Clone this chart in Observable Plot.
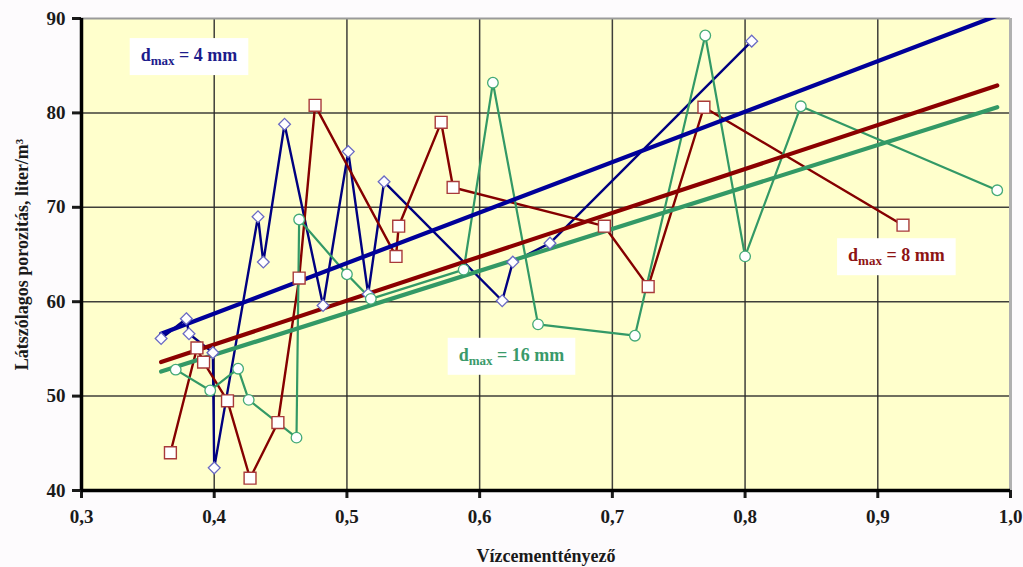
<!DOCTYPE html>
<html><head><meta charset="utf-8">
<script src="https://cdn.jsdelivr.net/npm/d3@7"></script>
<script src="https://cdn.jsdelivr.net/npm/@observablehq/plot@0.6"></script>
<style>
html,body{margin:0;padding:0;background:#fdfbfd;overflow:hidden;}
</style></head><body><div id="chart"></div>
<script>
// --- data ---
const xTicks = [0.3, 0.4, 0.5, 0.6, 0.7, 0.8, 0.9, 1.0];
const yTicks = [40, 50, 60, 70, 80, 90];

// d_max = 4 mm (diamonds)
const blueX = [0.360, 0.379, 0.381, 0.399, 0.400, 0.433, 0.437, 0.453, 0.482, 0.501, 0.516, 0.528, 0.617, 0.625, 0.653, 0.805];
const blueY = [56.1, 58.2, 56.6, 54.6, 42.4, 69.0, 64.2, 78.8, 59.6, 75.9, 60.8, 72.7, 60.1, 64.2, 66.2, 87.6];
// d_max = 8 mm (squares)
const redX = [0.367, 0.387, 0.392, 0.410, 0.427, 0.448, 0.464, 0.476, 0.537, 0.539, 0.571, 0.580, 0.694, 0.727, 0.769, 0.919];
const redY = [44.0, 55.1, 53.6, 49.5, 41.3, 47.2, 62.5, 80.8, 64.8, 68.0, 79.0, 72.1, 68.0, 61.6, 80.6, 68.1];
// d_max = 16 mm (circles)
const greenX = [0.371, 0.397, 0.418, 0.426, 0.462, 0.464, 0.500, 0.518, 0.588, 0.610, 0.644, 0.717, 0.770, 0.800, 0.842, 0.990];
const greenY = [52.8, 50.6, 52.9, 49.6, 45.6, 68.7, 62.9, 60.3, 63.4, 83.2, 57.6, 56.4, 88.2, 64.8, 80.7, 71.8];

// linear trend lines (end values)
const trendX = [0.36, 0.99];
const blueTrend = [56.6, 90.3];
const redTrend = [53.6, 82.9];
const greenTrend = [52.6, 80.6];

// annotation labels
const labelText = ["dmax = 4 mm", "dmax = 8 mm", "dmax = 16 mm"];
const labelX = [0.381, 0.914, 0.624];
const labelY = [86.1, 64.9, 54.35];
const labelColor = ["#1c1c8c", "#8e1414", "#3a9a6a"];

const rows = (xs, ys) => xs.map((x, i) => ({x, y: ys[i]}));
const blue = rows(blueX, blueY), red = rows(redX, redY), green = rows(greenX, greenY);
const bT = rows(trendX, blueTrend), rT = rows(trendX, redTrend), gT = rows(trendX, greenTrend);
const labels = labelText.map((t, i) => ({t, x: labelX[i], y: labelY[i], c: labelColor[i]}));
const fmt = d => d.toFixed(1).replace(".", ",");

const chart = Plot.plot({
  width: 1023, height: 567,
  marginLeft: 81, marginRight: 13, marginTop: 18, marginBottom: 77,
  x: {domain: [0.3, 1.0]},
  y: {domain: [40, 90]},
  style: {fontFamily: "'Liberation Serif', 'Times New Roman', serif", fontWeight: "bold", fontSize: "19px", background: "transparent", color: "#1a1a1a"},
  marks: [
    Plot.frame({fill: "#FFFFCC", stroke: null}),
    Plot.gridX(xTicks.slice(1, -1), {stroke: "#2a2a2a", strokeOpacity: 0.9, strokeWidth: 1.5}),
    Plot.gridY(yTicks.slice(1, -1), {stroke: "#2a2a2a", strokeOpacity: 0.9, strokeWidth: 1.5}),
    Plot.ruleY([90], {stroke: "#9a9a9a", strokeWidth: 2}),
    Plot.ruleX([1.0], {stroke: "#b0b0b0", strokeWidth: 3}),
    Plot.axisX(xTicks, {tickSize: 8, tickPadding: 11, strokeWidth: 3, tickFormat: fmt, fontSize: 19,
      label: "Vízcementtényező", labelAnchor: "center", labelOffset: 71, labelArrow: "none"}),
    Plot.axisY(yTicks, {tickSize: 9, tickPadding: 7, strokeWidth: 3, fontSize: 19,
      label: "Látszólagos porozitás, liter/m³", labelAnchor: "center", labelOffset: 66, labelArrow: "none"}),
    Plot.ruleX([0.3], {stroke: "#000", strokeWidth: 3.5}),
    Plot.ruleY([40], {stroke: "#000", strokeWidth: 3.5}),
    Plot.line(blue, {x: "x", y: "y", stroke: "#000080", strokeWidth: 2.4}),
    Plot.line(red, {x: "x", y: "y", stroke: "#850000", strokeWidth: 2.4}),
    Plot.line(green, {x: "x", y: "y", stroke: "#339966", strokeWidth: 2.2}),
    Plot.line(gT, {x: "x", y: "y", stroke: "#339966", strokeWidth: 4.2, clip: true}),
    Plot.line(rT, {x: "x", y: "y", stroke: "#8b0000", strokeWidth: 4.2, clip: true}),
    Plot.line(bT, {x: "x", y: "y", stroke: "#000099", strokeWidth: 4.2, clip: true}),
    Plot.dot(blue, {x: "x", y: "y", symbol: "diamond2", r: 5.3, fill: "white", stroke: "#6a6ac4", strokeWidth: 1.3}),
    Plot.dot(red, {x: "x", y: "y", symbol: "square", r: 6.7, fill: "white", stroke: "#a83a3a", strokeWidth: 1.4}),
    Plot.dot(green, {x: "x", y: "y", symbol: "circle", r: 5.3, fill: "white", stroke: "#44aa77", strokeWidth: 1.3}),
    Plot.text(labels, {x: "x", y: "y", text: "t", fill: "c", fontSize: 18, fontWeight: "bold"})
  ]
});
document.getElementById("chart").appendChild(chart);

// font sizes of axis texts
chart.querySelectorAll("text").forEach(el => {
  const g = el.closest("g[aria-label]");
  const lab = g ? g.getAttribute("aria-label") : "";
  if (/tick label/.test(lab)) { el.style.fontSize = "19px"; el.style.fontWeight = "bold"; }
  else if (/y-axis label/.test(lab)) { el.style.fontSize = "18px"; el.style.fontWeight = "bold"; }
  else if (/x-axis label/.test(lab)) { el.style.fontSize = "18px"; el.style.fontWeight = "bold"; }
});

// subscript "max" and white label boxes
d3.select(chart).selectAll("text")
  .filter(function () { return this.textContent.startsWith("dmax"); })
  .each(function () {
    const t = d3.select(this);
    const rest = this.textContent.slice(4);
    t.text(null);
    t.append("tspan").text("d");
    t.append("tspan").attr("font-size", "13px").attr("dy", "4").text("max");
    t.append("tspan").attr("dy", "-4").text(rest);
    const bb = this.getBBox();
    const padX = 11, padY = 7;
    const r = document.createElementNS("http://www.w3.org/2000/svg", "rect");
    r.setAttribute("x", bb.x - padX);
    r.setAttribute("y", bb.y - padY);
    r.setAttribute("width", bb.width + 2 * padX);
    r.setAttribute("height", bb.height + 2 * padY);
    r.setAttribute("fill", "white");
    if (this.getAttribute("transform")) r.setAttribute("transform", this.getAttribute("transform"));
    this.parentNode.insertBefore(r, this);
  });
</script>
</body></html>
